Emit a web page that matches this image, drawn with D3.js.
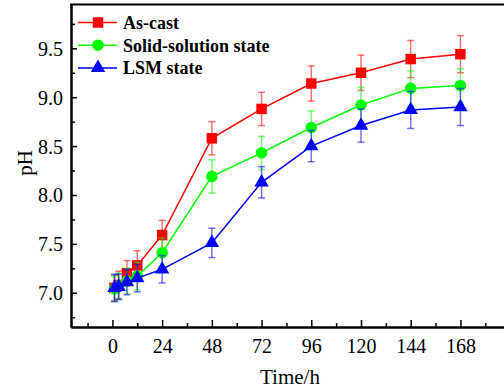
<!DOCTYPE html>
<html>
<head>
<meta charset="utf-8">
<script src="https://cdn.jsdelivr.net/npm/d3@7"></script>
<style>
  body { margin: 0; background: #fff; }
  svg text { font-family: "Liberation Serif", "Times New Roman", serif; }
</style>
</head>
<body>
<div class="chart"></div>
<script>
'use strict';
// time points (h)
var times = [1, 3, 7, 12, 24, 48, 72, 96, 120, 144, 168];
var asCast = [7.05, 7.08, 7.2, 7.28, 7.59, 8.58, 8.88, 9.14, 9.25, 9.39, 9.44];
var asCastErr = [0.13, 0.14, 0.13, 0.15, 0.15, 0.17, 0.17, 0.18, 0.18, 0.19, 0.19];
var solid = [7.04, 7.07, 7.12, 7.17, 7.41, 8.19, 8.43, 8.69, 8.92, 9.09, 9.12];
var solidErr = [0.13, 0.13, 0.13, 0.14, 0.15, 0.17, 0.17, 0.17, 0.18, 0.18, 0.17];
var lsm = [7.05, 7.06, 7.11, 7.15, 7.24, 7.51, 8.13, 8.5, 8.71, 8.87, 8.9];
var lsmErr = [0.14, 0.13, 0.13, 0.14, 0.14, 0.15, 0.16, 0.16, 0.17, 0.19, 0.19];
var seriesNames = ["As-cast", "Solid-solution state", "LSM state"];
var xTicks = [0, 24, 48, 72, 96, 120, 144, 168];
var yTicks = [7.0, 7.5, 8.0, 8.5, 9.0, 9.5];

var W = 504, H = 392;
var svg = d3.select(".chart").append("svg")
  .attr("width", W).attr("height", H);

var x = d3.scaleLinear().domain([-20, 200]).range([71, 526.7]);
var y = d3.scaleLinear().domain([6.65, 9.95]).range([327, 4.3]);

var series = [
  {name: seriesNames[0], vals: asCast, err: asCastErr, color: "#ff0000", shape: d3.symbolSquare, size: 110},
  {name: seriesNames[1], vals: solid, err: solidErr, color: "#00ff00", shape: d3.symbolCircle, size: 105},
  {name: seriesNames[2], vals: lsm, err: lsmErr, color: "#0000ff", shape: d3.symbolTriangle, size: 90}
];

var line = d3.line().x(d => x(d.t)).y(d => y(d.v));

series.forEach(function(s) {
  var pts = times.map((t, i) => ({t: t, v: s.vals[i], e: s.err[i]}));
  var g = svg.append("g");
  g.append("path").datum(pts)
    .attr("d", line).attr("fill", "none")
    .attr("stroke", s.color).attr("stroke-width", 1.5);
  var eb = g.selectAll(".eb").data(pts).enter().append("g")
    .attr("stroke", s.color).attr("stroke-opacity", 0.55).attr("stroke-width", 1.5);
  eb.append("line")
    .attr("x1", d => x(d.t)).attr("x2", d => x(d.t))
    .attr("y1", d => y(d.v - d.e)).attr("y2", d => y(d.v + d.e));
  eb.append("line")
    .attr("x1", d => x(d.t) - 3.5).attr("x2", d => x(d.t) + 3.5)
    .attr("y1", d => y(d.v + d.e)).attr("y2", d => y(d.v + d.e));
  eb.append("line")
    .attr("x1", d => x(d.t) - 3.5).attr("x2", d => x(d.t) + 3.5)
    .attr("y1", d => y(d.v - d.e)).attr("y2", d => y(d.v - d.e));
  g.selectAll(".m").data(pts).enter().append("path")
    .attr("d", d3.symbol().type(s.shape).size(s.size))
    .attr("transform", d => "translate(" + x(d.t) + "," + y(d.v) + ")")
    .attr("fill", s.color);
});

// axes
var xAxis = svg.append("g")
  .attr("transform", "translate(0,327)")
  .call(d3.axisBottom(x).tickValues(xTicks).tickSizeInner(-7).tickSizeOuter(0).tickPadding(12));
svg.append("g")
  .attr("transform", "translate(0,327)")
  .call(d3.axisBottom(x).tickValues(d3.range(-12, 200, 24)).tickSizeInner(-4).tickSizeOuter(0).tickFormat(""));
var yAxis = svg.append("g")
  .attr("transform", "translate(71,0)")
  .call(d3.axisLeft(y).tickValues(yTicks).tickFormat(d3.format(".1f")).tickSizeInner(-6).tickSizeOuter(0).tickPadding(8));
svg.append("g")
  .attr("transform", "translate(71,0)")
  .call(d3.axisLeft(y).tickValues([6.75, 7.25, 7.75, 8.25, 8.75, 9.25, 9.75]).tickSizeInner(-4).tickSizeOuter(0).tickFormat(""));

svg.selectAll(".domain").attr("stroke", "#000").attr("stroke-width", 2);
svg.selectAll(".tick line").attr("stroke", "#000").attr("stroke-width", 1.5);
xAxis.attr("font-family", "Liberation Serif");
yAxis.attr("font-family", "Liberation Serif");
svg.selectAll(".tick text").attr("font-size", 20).attr("fill", "#000")
  .attr("font-weight", "normal");
yAxis.selectAll(".tick text").attr("dy", "0.35em");

// top border
svg.append("line").attr("x1", 70).attr("x2", W + 5).attr("y1", 4.5).attr("y2", 4.5)
  .attr("stroke", "#000").attr("stroke-width", 2);

// axis titles
svg.append("text").attr("x", 290).attr("y", 384).attr("text-anchor", "middle")
  .attr("font-size", 21).text("Time/h");
svg.append("text").attr("transform", "translate(32,163) rotate(-90)")
  .attr("text-anchor", "middle").attr("font-size", 21).text("pH");

// legend
var leg = svg.append("g");
series.forEach(function(s, i) {
  var ly = 22.5 + i * 22.7;
  leg.append("line").attr("x1", 78).attr("x2", 117).attr("y1", ly).attr("y2", ly)
    .attr("stroke", s.color).attr("stroke-width", 1.5);
  leg.append("path").attr("d", d3.symbol().type(s.shape).size(s.size))
    .attr("transform", "translate(98," + ly + ")").attr("fill", s.color);
  leg.append("text").attr("x", 123).attr("y", ly).attr("dy", "0.35em")
    .attr("font-size", 18).attr("font-weight", "bold").text(s.name);
});
</script>
</body>
</html>
